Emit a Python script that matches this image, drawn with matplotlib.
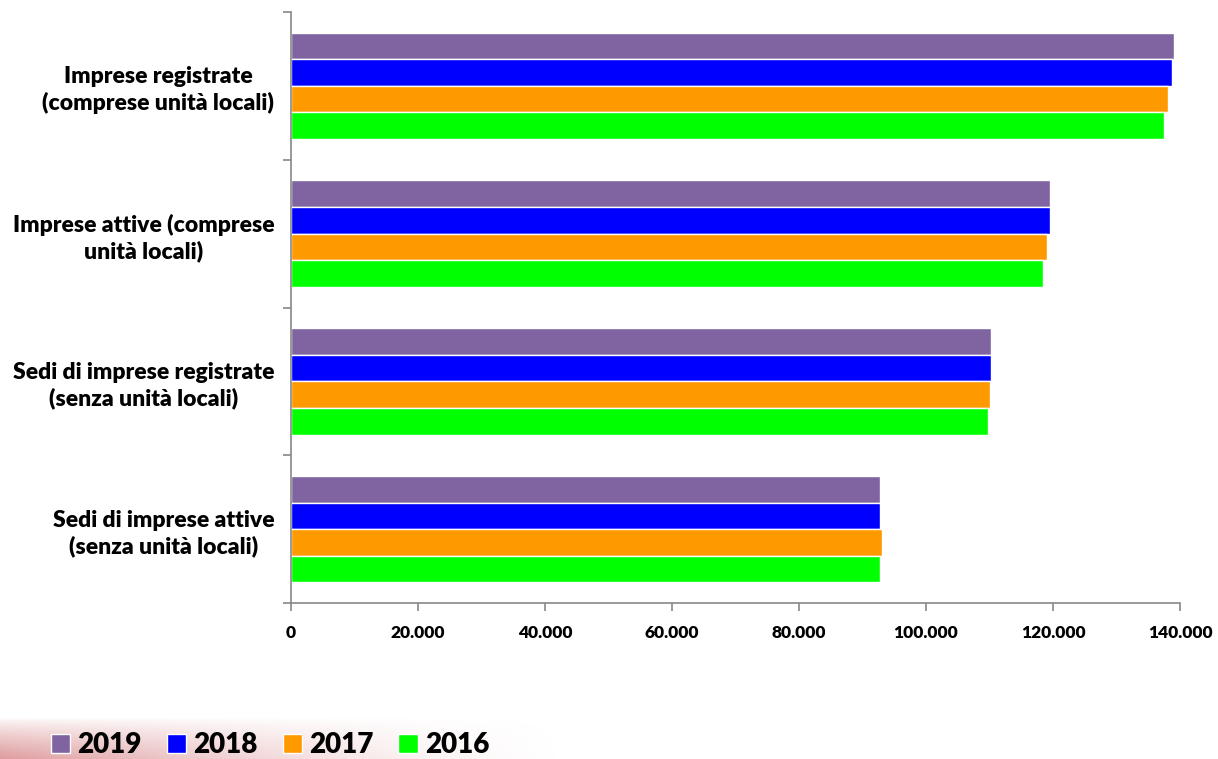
import numpy as np
import matplotlib
matplotlib.use("Agg")
import matplotlib.pyplot as plt
from matplotlib.ticker import FuncFormatter, FixedLocator

plt.rcParams['font.family'] = ['Lato', 'DejaVu Sans']

categorie = ["Imprese registrate\n(comprese unità locali)",
             "Imprese attive (comprese\nunità locali)",
             "Sedi di imprese registrate\n(senza unità locali)",
             "Sedi di imprese attive\n(senza unità locali)"]
anni = ["2019", "2018", "2017", "2016"]
colori = ["#8064A2", "#0000FF", "#FF9900", "#00FF00"]

v2019 = [139000, 119500, 110300, 92800]
v2018 = [138800, 119500, 110300, 92800]
v2017 = [138100, 119000, 110000, 93000]
v2016 = [137500, 118500, 109800, 92800]
valori = [v2019, v2018, v2017, v2016]

fig = plt.figure(figsize=(12.18, 7.59), dpi=100)

# sfondo sfumato in basso a sinistra (decorazione)
bg = fig.add_axes([0, 0, 0.47, 0.055], zorder=0)
xx = np.linspace(0, 1, 300)
yy = np.linspace(0, 1, 40)
X, Y = np.meshgrid(xx, yy)
alpha = np.clip((1 - X) ** 1.5 * np.clip(1 - Y, 0, 1) ** 0.8, 0, 1) * 0.8
img = np.zeros((40, 300, 4))
img[..., 0] = 0.84
img[..., 1] = 0.52
img[..., 2] = 0.53
img[..., 3] = alpha
bg.imshow(img, aspect='auto', extent=[0, 1, 0, 1], origin='lower')
bg.axis('off')

ax = fig.add_axes([291/1218, 1 - 603/759, (1180 - 291)/1218, (603 - 12)/759], zorder=1)

h = 0.18
y = np.arange(len(categorie))
for k in range(len(anni)):
    ax.barh(y - 1.5*h + k*h, valori[k], height=h, color=colori[k],
            edgecolor='white', linewidth=1, label=anni[k])

ax.set_xlim(0, 140000)
ax.set_ylim(3.5, -0.5)
ax.set_xticks(np.arange(0, 140001, 20000))
ax.xaxis.set_major_formatter(FuncFormatter(lambda v, p: f"{int(v):,}".replace(",", ".")))
ax.set_yticks(y)
ax.set_yticklabels(categorie, multialignment='center', fontsize=16.5, fontweight='heavy',
                   linespacing=1.25)
ax.yaxis.set_minor_locator(FixedLocator([-0.5, 0.5, 1.5, 2.5, 3.5]))
ax.tick_params(axis='y', which='major', length=0, pad=12)
ax.tick_params(axis='y', which='minor', length=6, color='#888888', width=1.2)
ax.tick_params(axis='x', length=6, color='#888888', width=1.2, pad=10, labelsize=12.5)
for t in ax.get_xticklabels():
    t.set_fontweight('heavy')
for s in ['top', 'right']:
    ax.spines[s].set_visible(False)
for s in ['left', 'bottom']:
    ax.spines[s].set_color('#888888')
    ax.spines[s].set_linewidth(1.2)

leg = fig.legend(loc='center', bbox_to_anchor=(270/1218, 1 - 745/759), ncol=4,
                 frameon=False, prop={'weight': 'heavy', 'size': 20},
                 handlelength=0.7, handleheight=0.7, handletextpad=0.25,
                 columnspacing=0.9, borderpad=0)

fig.savefig("out.png", dpi=100)
